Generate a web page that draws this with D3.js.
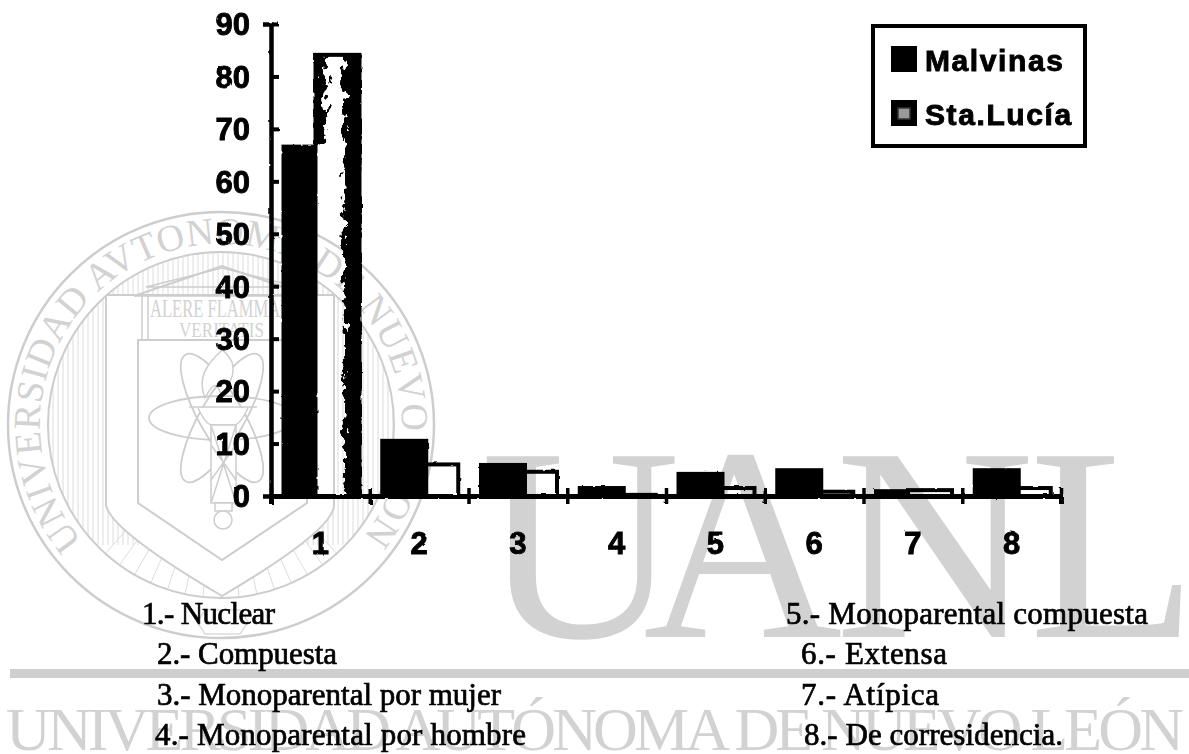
<!DOCTYPE html>
<html>
<head>
<meta charset="utf-8">
<script src="https://cdn.jsdelivr.net/npm/d3@7"></script>
<style>
body { margin: 0; background: #fff; }
svg { display: block; }
.num { font-family: "Liberation Sans", sans-serif; font-weight: bold; fill: #000; stroke: #000; stroke-width: 0.9px; }
.lista { font-family: "Liberation Serif", serif; font-size: 31px; fill: #000; stroke: #000; stroke-width: 0.7px; }
.marca { font-family: "Liberation Serif", serif; fill: #d2d2d2; }
</style>
</head>
<body>
<script>
// values
let categories = ["1", "2", "3", "4", "5", "6", "7", "8"];
let series = ["Malvinas", "Sta.Lucía"];
let malvinas = [67, 10.9, 6.3, 1.9, 4.6, 5.3, 1.3, 5.3];
let staLucia = [84.5, 6.4, 5.0, 0.6, 1.9, 1.2, 1.5, 1.9];
let yTicks = [0, 10, 20, 30, 40, 50, 60, 70, 80, 90];
let tiposIzq = ["1.- Nuclear", "2.- Compuesta", "3.- Monoparental por mujer", "4.- Monoparental por hombre"];
let tiposDer = ["5.- Monoparental compuesta", "6.- Extensa", "7.- Atípica", "8.- De corresidencia."];
let sealText = "UNIVERSIDAD AVTONOMA DE NUEVO LEON";
let bottomText = "UNIVERSIDAD AUTÓNOMA DE NUEVO LEÓN";
let bigLetters = ["U", "A", "N", "L"];

run();

function run() {
    let width = 1189;
    let height = 754;
    let svg = d3.select("body").append("svg")
        .attr("width", width)
        .attr("height", height);

    addDefs(svg);
    drawWatermark(svg, width);
    drawChart(svg);
    drawLegend(svg);
    drawNotes(svg);
}

function addDefs(svg) {
    let defs = svg.append("defs");

    let speckle = defs.append("filter").attr("id", "speckle")
        .attr("x", 0).attr("y", 0).attr("width", 1).attr("height", 1);
    speckle.append("feTurbulence")
        .attr("type", "fractalNoise")
        .attr("baseFrequency", "0.16 0.1")
        .attr("numOctaves", 3)
        .attr("seed", 7)
        .attr("result", "n");
    speckle.append("feColorMatrix")
        .attr("in", "n")
        .attr("type", "matrix")
        .attr("values", "0 0 0 0 0  0 0 0 0 0  0 0 0 0 0  1 0 0 0 0")
        .attr("result", "na");
    speckle.append("feComposite")
        .attr("in", "SourceGraphic")
        .attr("in2", "na")
        .attr("operator", "arithmetic")
        .attr("k2", 1).attr("k3", 1).attr("k4", -0.5)
        .attr("result", "mix");
    speckle.append("feComponentTransfer")
        .attr("in", "mix")
        .append("feFuncA")
        .attr("type", "linear")
        .attr("slope", 25)
        .attr("intercept", -12);

    let rough = defs.append("filter").attr("id", "rough")
        .attr("x", "-2%").attr("y", "-2%").attr("width", "104%").attr("height", "104%");
    rough.append("feTurbulence")
        .attr("type", "fractalNoise")
        .attr("baseFrequency", 0.12)
        .attr("numOctaves", 2)
        .attr("seed", 3)
        .attr("result", "n");
    rough.append("feDisplacementMap")
        .attr("in", "SourceGraphic")
        .attr("in2", "n")
        .attr("scale", 2);

    gradient(defs, "fadeRight", [[0.45, 0], [0.82, 1]]);
    gradient(defs, "fadeLeft", [[0, 1], [0.5, 0]]);
}

function gradient(defs, id, stops) {
    let g = defs.append("linearGradient").attr("id", id);
    stops.forEach(function (s) {
        g.append("stop")
            .attr("offset", s[0])
            .attr("stop-color", "#000")
            .attr("stop-opacity", s[1]);
    });
}

function drawWatermark(svg, width) {
    let g = svg.append("g").attr("class", "watermark");
    let cx = 221, cy = 425, rOuter = 213, rInner = 173;
    let line = "#cdcdcd", thin = "#dcdcdc";

    // big letters
    let bigX = [481, 643, 835, 1029];
    g.selectAll(".big").data(bigLetters).enter().append("text")
        .attr("class", "marca big")
        .attr("x", function (d, i) { return bigX[i]; })
        .attr("y", 637)
        .attr("font-size", 276)
        .text(function (d) { return d; });

    // bar and bottom line of text
    g.append("rect").attr("x", 10).attr("y", 669)
        .attr("width", width - 10).attr("height", 9).attr("fill", "#cfcfcf");
    g.append("text").attr("class", "marca")
        .attr("x", 6).attr("y", 750)
        .attr("font-size", 62)
        .attr("textLength", 1178)
        .attr("lengthAdjust", "spacing")
        .attr("fill", "#c8c8c8")
        .text(bottomText);

    // hatching, clipped to the ring inside the seal
    let outerShield = "M106,295 L106,505 Q110,530 222,596 Q334,530 334,505 L334,295 Z";
    let defs = svg.select("defs");
    defs.append("clipPath").attr("id", "innerDisc")
        .append("circle").attr("cx", cx).attr("cy", cy).attr("r", rInner);

    let hatch = g.append("g").attr("clip-path", "url(#innerDisc)");
    hatch.selectAll("line.v").data(d3.range(48, 396, 5)).enter().append("line")
        .attr("class", "v")
        .attr("x1", function (d) { return d; })
        .attr("x2", function (d) { return d; })
        .attr("y1", 250).attr("y2", 545)
        .attr("stroke", thin).attr("stroke-width", 1);
    hatch.append("path").attr("d", outerShield).attr("fill", "#fff");
    hatch.selectAll("line.r").data(d3.range(48, 134, 6)).enter().append("line")
        .attr("class", "r")
        .attr("x1", function (d) { return cx + 120 * Math.cos(d * Math.PI / 180); })
        .attr("y1", function (d) { return cy + 120 * Math.sin(d * Math.PI / 180); })
        .attr("x2", function (d) { return cx + rInner * Math.cos(d * Math.PI / 180); })
        .attr("y2", function (d) { return cy + rInner * Math.sin(d * Math.PI / 180); })
        .attr("stroke", thin).attr("stroke-width", 1);
    hatch.append("path").attr("d", outerShield).attr("fill", "#fff").attr("stroke", line).attr("stroke-width", 2);

    g.append("circle").attr("cx", cx).attr("cy", cy).attr("r", rOuter)
        .attr("fill", "none").attr("stroke", line).attr("stroke-width", 2.5);
    g.append("circle").attr("cx", cx).attr("cy", cy).attr("r", rInner)
        .attr("fill", "none").attr("stroke", line).attr("stroke-width", 2);

    // text round the seal
    let a = 50 * Math.PI / 180;
    let rText = 181;
    defs.append("path").attr("id", "sealArc")
        .attr("d", "M" + (cx - rText * Math.sin(a)) + "," + (cy + rText * Math.cos(a))
            + " A" + rText + "," + rText + " 0 1 1 " + (cx + rText * Math.sin(a)) + "," + (cy + rText * Math.cos(a)));
    let sealLabel = g.append("text").attr("class", "marca")
        .attr("font-size", 38)
        .attr("fill", "#c6c6c6");
    sealLabel.append("textPath")
        .attr("href", "#sealArc")
        .attr("textLength", 815)
        .attr("lengthAdjust", "spacing")
        .text(sealText);

    // inner shield, pediment and columns
    let shield = g.append("g").attr("fill", "none").attr("stroke", line).attr("stroke-width", 2);
    shield.append("path").attr("d", "M138,340 L138,503 L222,560 L307,503 L307,340 Z").attr("fill", "#fff");
    shield.append("path").attr("d", "M134,296 L222,266 L310,296");
    shield.append("path").attr("d", "M146,287 L222,268 L298,287 Z").attr("stroke-width", 1.5);
    shield.append("path").attr("d", "M134,296 L310,296 M142,296 L142,340 M148,296 L148,340 M138,340 L307,340").attr("stroke-width", 1.5);
    g.append("text").attr("class", "marca")
        .attr("x", 150).attr("y", 317).attr("font-size", 25)
        .attr("textLength", 145).attr("lengthAdjust", "spacingAndGlyphs")
        .attr("fill", "#c8c8c8").text("ALERE FLAMMAM");
    g.append("text").attr("class", "marca")
        .attr("x", 179).attr("y", 337).attr("font-size", 22)
        .attr("textLength", 85).attr("lengthAdjust", "spacingAndGlyphs")
        .attr("fill", "#c8c8c8").text("VERITATIS");

    // atom and torch
    let atom = g.append("g").attr("fill", "none").attr("stroke", line).attr("stroke-width", 1.8);
    [0, 60, -60].forEach(function (r) {
        atom.append("ellipse")
            .attr("cx", 222).attr("cy", 418)
            .attr("rx", 73).attr("ry", 22)
            .attr("transform", "rotate(" + r + ",222,418)");
    });
    let torch = g.append("g").attr("fill", "#fff").attr("stroke", line).attr("stroke-width", 1.5);
    torch.append("path").attr("d", "M222,350 C206,365 197,378 205,398 C212,385 217,378 222,398 C228,382 236,378 232,362 C228,355 226,352 222,350 Z");
    torch.append("path").attr("d", "M189,407 L257,407 M198,408 Q206,425 212,425 L234,425 Q240,425 248,408");
    torch.append("rect").attr("x", 211).attr("y", 425).attr("width", 25).attr("height", 78);
    torch.append("path").attr("d", "M211,425 L236,503 M236,425 L211,503 M211,445 L236,480 M236,445 L211,480").attr("fill", "none");
    torch.append("rect").attr("x", 215).attr("y", 503).attr("width", 17).attr("height", 8);
    torch.append("circle").attr("cx", 223).attr("cy", 520).attr("r", 9);
    g.append("path").attr("d", "M205,610 L240,610 L248,622 L240,634 L205,634 L197,622 Z")
        .attr("fill", "none").attr("stroke", thin).attr("stroke-width", 1.5);
}

function drawChart(svg) {
    let left = 271, right = 1061, bottom = 496, top = 24;
    let barWidth = 48;

    let x = d3.scaleBand().domain(categories).range([left, right]);
    let xEdges = d3.scaleLinear().domain([0, categories.length]).range([left, right]);
    let xInner = d3.scalePoint().domain(series).range([10.5, 42.5]);
    let y = d3.scaleLinear().domain([0, 90]).range([bottom, top]);

    let g = svg.append("g").attr("class", "chart").attr("filter", "url(#rough)");

    let bars = g.selectAll(".cat").data(categories).enter().append("g")
        .attr("class", "cat")
        .attr("transform", function (d) { return "translate(" + x(d) + ",0)"; });

    // Malvinas stops where a taller Sta.Lucía bar starts, its clear inside shows the page
    bars.append("rect")
        .attr("x", xInner("Malvinas"))
        .attr("y", function (d, i) { return y(malvinas[i]); })
        .attr("width", function (d, i) {
            return staLucia[i] > malvinas[i] ? xInner("Sta.Lucía") - xInner("Malvinas") + 2 : barWidth;
        })
        .attr("height", function (d, i) { return bottom - y(malvinas[i]); })
        .attr("fill", "#000");

    bars.append("rect")
        .attr("x", function () { return xInner("Sta.Lucía") + 2; })
        .attr("y", function (d, i) { return y(staLucia[i]) + 2; })
        .attr("width", barWidth - 4)
        .attr("height", function (d, i) { return Math.max(bottom - y(staLucia[i]) - 2, 1); })
        .attr("fill", "none")
        .attr("stroke", "#000")
        .attr("stroke-width", 4);

    // blotchy print on the tall bar
    let tall = bars.filter(function (d, i) { return i === 0; });
    tall.append("rect")
        .attr("x", xInner("Sta.Lucía"))
        .attr("y", y(staLucia[0]))
        .attr("width", barWidth)
        .attr("height", bottom - y(staLucia[0]))
        .attr("fill", "url(#fadeRight)")
        .attr("filter", "url(#speckle)");
    tall.append("rect")
        .attr("x", xInner("Sta.Lucía"))
        .attr("y", y(staLucia[0]))
        .attr("width", barWidth)
        .attr("height", y(malvinas[0]) - y(staLucia[0]))
        .attr("fill", "url(#fadeLeft)")
        .attr("filter", "url(#speckle)");

    // axes
    let yAxis = g.append("g")
        .attr("class", "y axis")
        .attr("transform", "translate(" + left + ",0)")
        .call(d3.axisLeft(y).tickValues(yTicks).tickSize(8).tickPadding(13));
    yAxis.selectAll(".tick line").attr("x2", 8).attr("stroke-width", 4).attr("stroke", "#000");
    yAxis.select(".domain").attr("stroke", "#000").attr("stroke-width", 4.5);
    yAxis.selectAll(".tick text")
        .attr("class", "num")
        .attr("font-size", 31)
        .attr("dy", "0.35em");

    let xAxis = g.append("g")
        .attr("class", "x axis")
        .attr("transform", "translate(0," + bottom + ")")
        .call(d3.axisBottom(xEdges).ticks(categories.length).tickSize(8).tickFormat(""));
    xAxis.selectAll(".tick line").attr("y1", -8).attr("stroke-width", 3.5).attr("stroke", "#000");
    xAxis.select(".domain").attr("stroke", "#000").attr("stroke-width", 5);

    let xLabels = g.append("g")
        .attr("class", "x labels")
        .attr("transform", "translate(0," + bottom + ")")
        .call(d3.axisBottom(x).tickSize(0).tickPadding(36));
    xLabels.select(".domain").remove();
    xLabels.selectAll(".tick text")
        .attr("class", "num")
        .attr("font-size", 31);
}

function drawLegend(svg) {
    let g = svg.append("g").attr("class", "legend");
    g.append("rect")
        .attr("x", 873).attr("y", 26)
        .attr("width", 212).attr("height", 120)
        .attr("fill", "#fff")
        .attr("stroke", "#000")
        .attr("stroke-width", 4);

    let rowY = d3.scalePoint().domain(series).range([71, 125]);

    g.selectAll(".swatch").data(series).enter().append("rect")
        .attr("class", "swatch")
        .attr("x", 891)
        .attr("y", function (d) { return rowY(d) - 25; })
        .attr("width", 26)
        .attr("height", 26)
        .attr("fill", "#000");
    g.append("rect")
        .attr("x", 898).attr("y", rowY("Sta.Lucía") - 17)
        .attr("width", 12).attr("height", 11)
        .attr("fill", "#999").attr("stroke", "#333").attr("stroke-width", 1.5);

    g.selectAll(".item").data(series).enter().append("text")
        .attr("class", "num item")
        .attr("x", 925)
        .attr("y", function (d) { return rowY(d); })
        .attr("font-size", 30)
        .attr("letter-spacing", 1.6)
        .text(function (d) { return d; });
}

function drawNotes(svg) {
    let g = svg.append("g").attr("class", "notes");
    let rowY = [624, 664, 705, 745];
    let leftX = [142, 157, 157, 155];
    let rightX = [786, 801, 801, 804];
    // measured line widths, the scan is not set evenly
    let leftW = [133, 180, 344, 371];
    let rightW = [362, 146, 138, 259];

    g.selectAll(".izq").data(tiposIzq).enter().append("text")
        .attr("class", "lista izq")
        .attr("x", function (d, i) { return leftX[i]; })
        .attr("y", function (d, i) { return rowY[i]; })
        .attr("textLength", function (d, i) { return leftW[i]; })
        .text(function (d) { return d; });
    g.selectAll(".der").data(tiposDer).enter().append("text")
        .attr("class", "lista der")
        .attr("x", function (d, i) { return rightX[i]; })
        .attr("y", function (d, i) { return rowY[i]; })
        .attr("textLength", function (d, i) { return rightW[i]; })
        .text(function (d) { return d; });
}
</script>
</body>
</html>
